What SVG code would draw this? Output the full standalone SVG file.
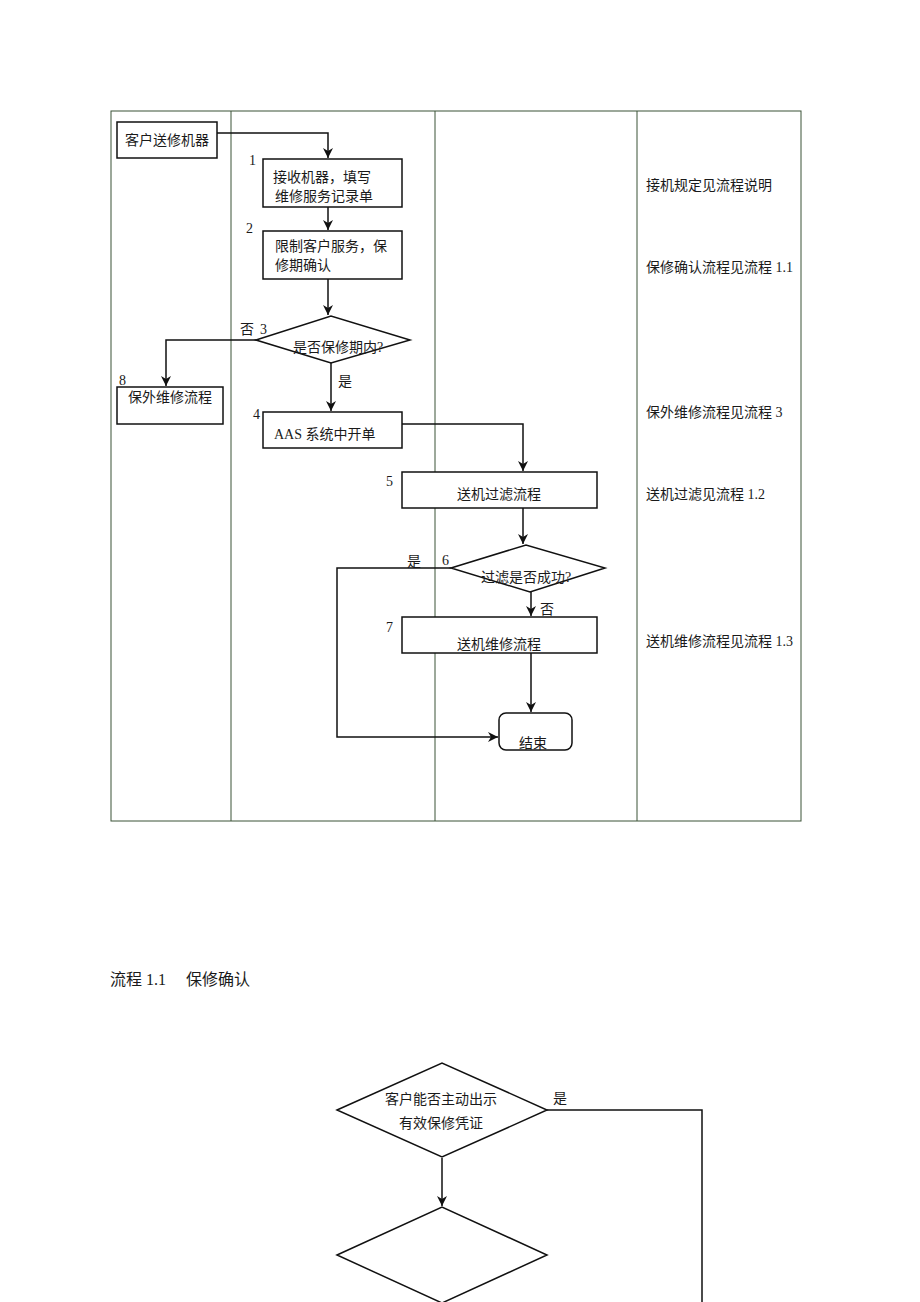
<svg xmlns="http://www.w3.org/2000/svg" width="920" height="1302" viewBox="0 0 920 1302">
<style>
text{font-family:"Liberation Serif","Noto Sans CJK SC",serif;font-size:14px;fill:#1a1a1a}
.num{font-size:14px}
.box{fill:#fff;stroke:#111;stroke-width:1.5}
.lane{fill:none;stroke:#3a5236;stroke-width:1}
.c{fill:none;stroke:#111;stroke-width:1.5}
.m{text-anchor:middle}
</style>
<defs>
<marker id="ar" viewBox="0 0 10 10" refX="10" refY="5" markerWidth="10" markerHeight="10" markerUnits="userSpaceOnUse" orient="auto">
<path d="M0,0 L10,5 L0,10 L3,5 z" fill="#111"/>
</marker>
</defs>
<g id="lanes">
<rect class="lane" x="111" y="111" width="690" height="710"/>
<line class="lane" x1="231" y1="111" x2="231" y2="821"/>
<line class="lane" x1="435" y1="111" x2="435" y2="821"/>
<line class="lane" x1="637" y1="111" x2="637" y2="821"/>
</g>
<g id="connectors">
<polyline class="c" points="217,133 328,133 328,158" marker-end="url(#ar)"/>
<line class="c" x1="328" y1="207" x2="328" y2="230" marker-end="url(#ar)"/>
<line class="c" x1="328" y1="279" x2="328" y2="315" marker-end="url(#ar)"/>
<polyline class="c" points="256,340 166,340 166,386" marker-end="url(#ar)"/>
<line class="c" x1="331" y1="363" x2="331" y2="411" marker-end="url(#ar)"/>
<polyline class="c" points="402,424 523,424 523,471" marker-end="url(#ar)"/>
<line class="c" x1="523" y1="508" x2="523" y2="544" marker-end="url(#ar)"/>
<polyline class="c" points="451,568 337,568 337,737 498,737" marker-end="url(#ar)"/>
<line class="c" x1="531" y1="592" x2="531" y2="616" marker-end="url(#ar)"/>
<line class="c" x1="531" y1="653" x2="531" y2="712" marker-end="url(#ar)"/>
<polyline class="c" points="547,1110 702,1110 702,1302"/>
<line class="c" x1="442" y1="1158" x2="442" y2="1206" marker-end="url(#ar)"/>
<text x="240" y="334">否</text>
<text x="338" y="386">是</text>
<text x="407" y="566">是</text>
<text x="540" y="614">否</text>
<text x="553" y="1103">是</text>
</g>
<g id="n0">
<rect class="box" x="117" y="122" width="100" height="36"/>
<text x="167" y="145" class="m">客户送修机器</text>
</g>
<g id="n1">
<rect class="box" x="263" y="159" width="139" height="48"/>
<text x="249" y="165" class="num">1</text>
<text x="273" y="182">接收机器，填写</text>
<text x="275" y="201">维修服务记录单</text>
</g>
<g id="n2">
<rect class="box" x="263" y="231" width="139" height="48"/>
<text x="246" y="233" class="num">2</text>
<text x="275" y="251">限制客户服务，保</text>
<text x="275" y="270">修期确认</text>
</g>
<g id="n3">
<polygon class="box" points="256,340 331,316 410,340 331,363"/>
<text x="260" y="334" class="num">3</text>
<text x="338" y="352" class="m">是否保修期内?</text>
</g>
<g id="n8">
<rect class="box" x="117" y="387" width="106" height="37"/>
<text x="119" y="385" class="num">8</text>
<text x="170" y="402" class="m">保外维修流程</text>
</g>
<g id="n4">
<rect class="box" x="263" y="412" width="139" height="36"/>
<text x="253" y="419" class="num">4</text>
<text x="274" y="439">AAS 系统中开单</text>
</g>
<g id="n5">
<rect class="box" x="402" y="472" width="195" height="36"/>
<text x="386" y="486" class="num">5</text>
<text x="499" y="499" class="m">送机过滤流程</text>
</g>
<g id="n6">
<polygon class="box" points="451,568 526,545 605,568 530,592"/>
<text x="442" y="565" class="num">6</text>
<text x="526" y="582" class="m">过滤是否成功?</text>
</g>
<g id="n7">
<rect class="box" x="402" y="617" width="195" height="36"/>
<text x="386" y="632" class="num">7</text>
<text x="499" y="649" class="m">送机维修流程</text>
</g>
<g id="end">
<rect class="box" x="499" y="713" width="73" height="37" rx="7"/>
<text x="533" y="748" class="m">结束</text>
</g>
<g id="notes">
<text x="646" y="190">接机规定见流程说明</text>
<text x="646" y="272">保修确认流程见流程 1.1</text>
<text x="646" y="417">保外维修流程见流程 3</text>
<text x="646" y="499">送机过滤见流程 1.2</text>
<text x="646" y="646">送机维修流程见流程 1.3</text>
</g>
<g id="title">
<text x="110" y="985" style="font-size:16px" xml:space="preserve">流程 1.1　 保修确认</text>
</g>
<g id="d1">
<polygon class="box" points="337,1110 442,1063 547,1110 442,1157"/>
<text x="441" y="1104" class="m">客户能否主动出示</text>
<text x="441" y="1128" class="m">有效保修凭证</text>
</g>
<g id="d2">
<polygon class="box" points="337,1255 442,1207 547,1255 442,1303"/>
</g>
</svg>
